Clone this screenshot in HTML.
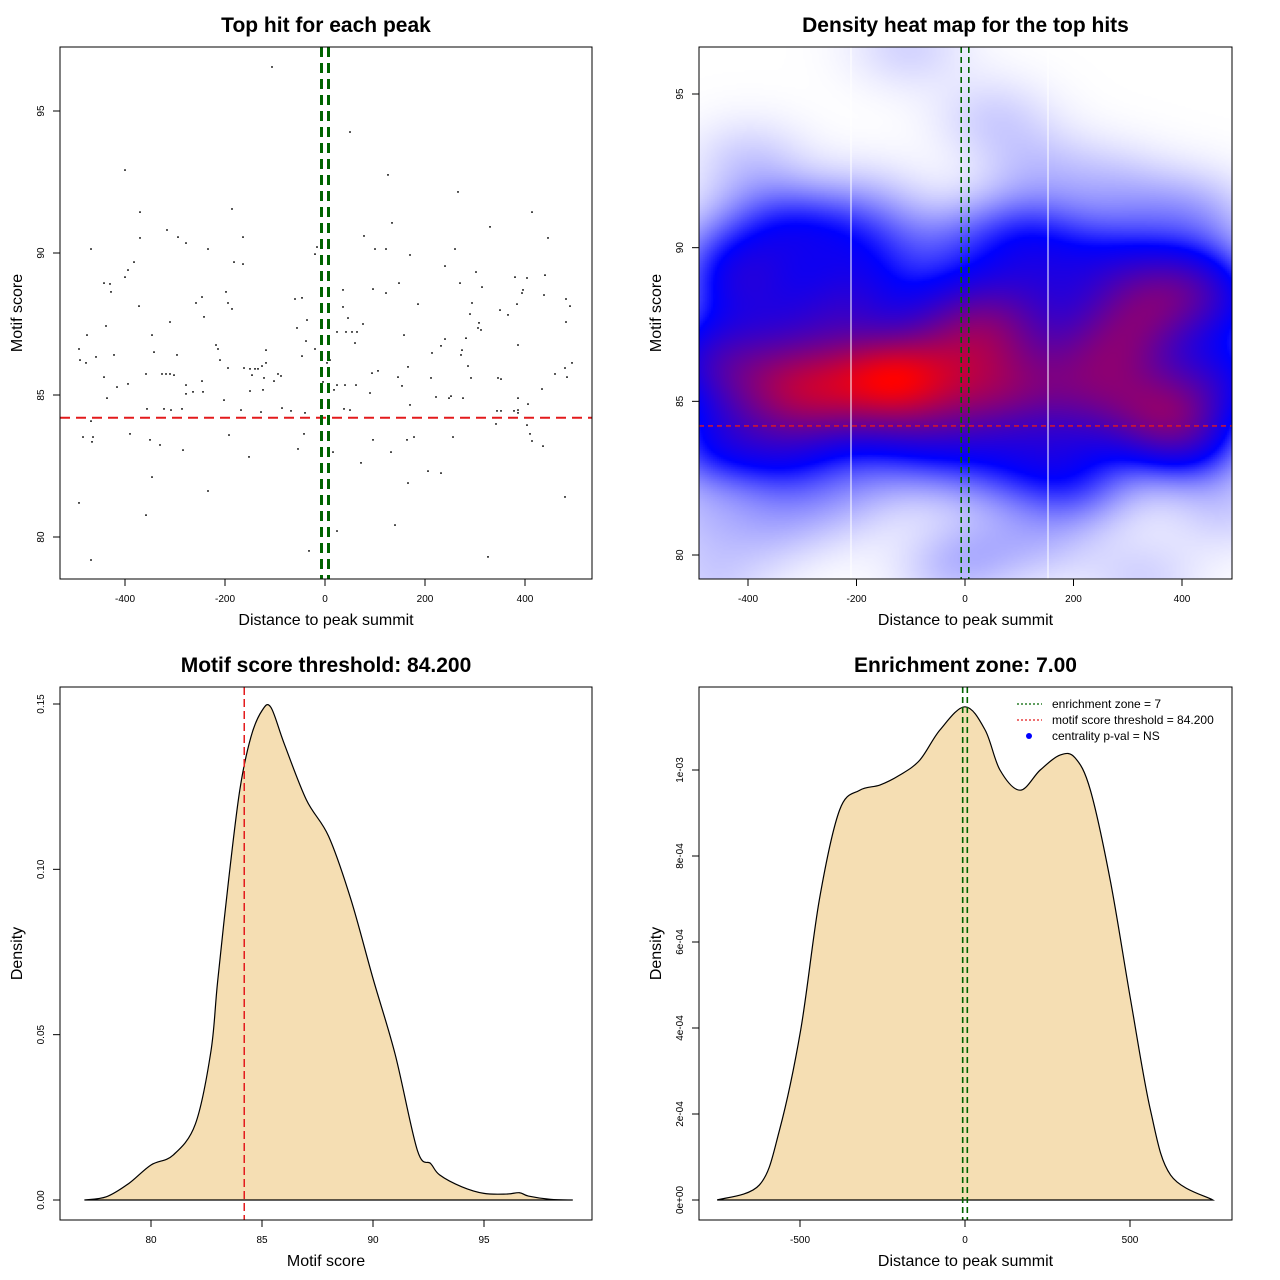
<!DOCTYPE html>
<html><head><meta charset="utf-8">
<style>
html,body{margin:0;padding:0;background:#fff;}
#wrap{position:relative;width:1280px;height:1280px;overflow:hidden;font-family:"Liberation Sans",sans-serif;}
#heat{position:absolute;left:699px;top:47px;}
svg{position:absolute;left:0;top:0;}
</style></head>
<body>
<div id="wrap">
<canvas id="heat" width="533" height="532"></canvas>
<svg id="svg" width="1280" height="1280" xmlns="http://www.w3.org/2000/svg"></svg>
</div>
<script>
// ---------- data ----------
const hitDistance = [-106,50,-400,126,266,-186,-370,414,134,-316,330,-294,-164,-370,78,446,-278,-468,-234,-16,100,122,260,-20,-182,-382,170,-164,240,-394,302,-400,380,404,440,148,-442,-430,270,96,314,36,396,-428,-198,394,122,438,-246,-60,-46,-194,482,-258,294,186,384,-372,490,36,-186,350,366,-242,290,46,-36,-310,308,76,-56,306,-438,482,312,24,42,54,64,-476,-346,158,282,240,-38,60,-218,232,386,-492,-214,-20,-342,274,-118,214,-296,-46,272,-458,-422,-490,10,-210,4,-478,-140,-126,-118,-150,-134,494,-194,-162,166,286,480,106,94,-326,-310,-318,-358,-94,-88,-146,-302,460,-442,-122,212,146,292,346,352,484,-102,-246,-4,-278,-416,-394,24,40,62,154,434,-264,-244,-124,18,-150,-278,90,222,248,252,276,-436,170,-202,386,406,386,-356,-322,-308,-286,-168,-86,38,50,-68,-128,344,352,378,386,-40,-468,342,404,-484,-464,-390,-192,-42,410,-466,-350,96,-330,164,178,256,414,436,-54,-284,16,132,-152,72,206,232,-346,166,-234,-492,480,-358,140,24,-32,-468,326];
const hitScore = [96.55,94.26,92.92,92.75,92.15,91.55,91.44,91.44,91.06,90.81,90.92,90.56,90.56,90.53,90.6,90.53,90.35,90.14,90.14,90.21,90.14,90.14,90.14,89.96,89.68,89.68,89.93,89.61,89.54,89.4,89.33,89.15,89.15,89.12,89.22,88.94,88.94,88.91,88.94,88.73,88.8,88.7,88.7,88.63,88.63,88.59,88.59,88.52,88.45,88.38,88.42,88.24,88.38,88.24,88.24,88.2,88.2,88.13,88.13,88.1,88.03,87.99,87.82,87.75,87.85,87.71,87.64,87.57,87.54,87.5,87.36,87.36,87.43,87.57,87.29,87.22,87.22,87.22,87.22,87.11,87.11,87.11,87.0,86.97,86.9,86.83,86.76,86.73,86.76,86.62,86.62,86.62,86.51,86.58,86.58,86.48,86.41,86.37,86.41,86.34,86.41,86.23,86.23,86.23,86.13,86.13,85.92,86.02,86.13,85.92,85.92,86.13,85.95,85.95,85.99,86.02,85.95,85.85,85.77,85.74,85.74,85.74,85.74,85.74,85.67,85.7,85.7,85.74,85.63,85.6,85.6,85.63,85.6,85.6,85.56,85.63,85.49,85.49,85.46,85.35,85.28,85.39,85.35,85.35,85.35,85.32,85.21,85.11,85.11,85.18,85.18,85.14,85.04,85.07,84.93,84.89,84.96,84.89,84.89,84.65,84.82,84.89,84.68,84.47,84.51,84.51,84.47,84.51,84.47,84.54,84.51,84.47,84.44,84.4,84.44,84.44,84.44,84.37,84.37,84.08,83.98,83.94,83.52,83.52,83.63,83.59,83.63,83.63,83.35,83.42,83.42,83.24,83.42,83.52,83.52,83.38,83.2,83.1,83.06,82.99,82.99,82.82,82.61,82.32,82.25,82.11,81.9,81.62,81.2,81.41,80.77,80.42,80.21,79.51,79.19,79.3];
const scoreThreshold = 84.2;
const enrichZone = 7;
const scoreX = [77,78,79,80,81,82,82.7,83,83.5,84,84.5,85,85.4,86,87,88,89,90,91,92,92.6,93,94,95,96,96.6,97,98,99];
const scoreDens = [0,0.001,0.005,0.0106,0.0136,0.023,0.045,0.066,0.097,0.124,0.14,0.148,0.149,0.138,0.121,0.110,0.091,0.067,0.044,0.015,0.011,0.0076,0.004,0.002,0.0018,0.0022,0.0012,0.0002,0];
const distX = [-751,-623,-562,-498,-441,-380,-319,-258,-198,-137,-76,0,61,106,167,228,289,334,380,441,502,562,623,751];
const distDens = [0,3.5e-5,1.63e-4,3.95e-4,7.0e-4,9.07e-4,9.53e-4,9.65e-4,9.88e-4,1.023e-3,1.093e-3,1.147e-3,1.093e-3,1.0e-3,9.53e-4,1.0e-3,1.035e-3,1.028e-3,9.53e-4,7.4e-4,4.65e-4,2.09e-4,5.8e-5,0];
const ticks1X=[-400,-200,0,200,400], ticks1Y=[80,85,90,95];
const ticks3X=[80,85,90,95], ticks3Y=[0,0.05,0.10,0.15], ticks3YLab=["0.00","0.05","0.10","0.15"];
const ticks4X=[-500,0,500], ticks4Y=[0,2e-4,4e-4,6e-4,8e-4,1e-3], ticks4YLab=["0e+00","2e-04","4e-04","6e-04","8e-04","1e-03"];

// ---------- helpers ----------
const svg=document.getElementById('svg');
const NS='http://www.w3.org/2000/svg';
function el(tag,attrs,parent){const e=document.createElementNS(NS,tag);for(const k in attrs)e.setAttribute(k,attrs[k]);(parent||svg).appendChild(e);return e;}
function txt(s,x,y,size,opts,parent){const t=el('text',Object.assign({x:x,y:y,'font-size':size,'text-anchor':'middle','font-family':'Liberation Sans, sans-serif',fill:'#000'},opts||{}),parent);t.textContent=s;return t;}
function lin(d0,d1,p0,p1){return v=>p0+(v-d0)*(p1-p0)/(d1-d0);}
function smoothPath(xs,ys){let d='M'+xs[0]+','+ys[0];for(let i=0;i<xs.length-1;i++){const x0=xs[Math.max(i-1,0)],y0=ys[Math.max(i-1,0)],x1=xs[i],y1=ys[i],x2=xs[i+1],y2=ys[i+1],x3=xs[Math.min(i+2,xs.length-1)],y3=ys[Math.min(i+2,xs.length-1)];d+=' C'+(x1+(x2-x0)/6)+','+(y1+(y2-y0)/6)+' '+(x2-(x3-x1)/6)+','+(y2-(y3-y1)/6)+' '+x2+','+y2;}return d;}

function panel(name,L,T,R,B,title,xlab,ylab){
  const g=el('g',{});
  
  
  const t=txt(title,(L+R)/2,T-15,21,{'font-weight':'bold'},g);
  
  
  const xl=txt(xlab,(L+R)/2,B+46,16,{},g);
  
  
  const yl=txt(ylab,0,0,16,{transform:'translate('+(L-38)+','+((T+B)/2)+') rotate(-90)'},g);
  
  
  return g;
}
function axes(g,L,T,R,B,sx,sy,tx,ty,tyLab){
  const xa=el('g',{},g);
  
  
  el('line',{x1:sx(tx[0]),x2:sx(tx[tx.length-1]),y1:B,y2:B,stroke:'#000'},xa);
  tx.forEach(v=>{el('line',{x1:sx(v),x2:sx(v),y1:B,y2:B+7,stroke:'#000'},xa);txt(String(v),sx(v),B+23,10,{},xa);});
  const ya=el('g',{},g);
  
  
  ty.forEach((v,i)=>{el('line',{x1:L-7,x2:L,y1:sy(v),y2:sy(v),stroke:'#000'},ya);txt(tyLab?tyLab[i]:String(v),0,0,10,{transform:'translate('+(L-16)+','+sy(v)+') rotate(-90)'},ya);});
  const b=el('rect',{x:L,y:T,width:R-L,height:B-T,fill:'none',stroke:'#000'},g);
  
  
}

// ---------- panel 1 ----------
(function(){
  const L=60,T=47,R=592,B=579;
  const sx=lin(0,400,325,525), sy=lin(80,95,537,111);
  const g=panel('scatter-panel',L,T,R,B,'Top hit for each peak','Distance to peak summit','Motif score');
  const pts=el('g',{},g);
  
  
  hitDistance.forEach((d,i)=>{const r=el('rect',{x:sx(d)-0.8,y:sy(hitScore[i])-0.8,width:1.6,height:1.6,fill:'#000'},pts);
    
    });
  const h=el('line',{x1:L,x2:R,y1:sy(scoreThreshold),y2:sy(scoreThreshold),stroke:'#e31a1c','stroke-width':2,'stroke-dasharray':'10,6'},g);
  
  
  [-enrichZone,enrichZone].forEach(z=>{const v=el('line',{x1:sx(z),x2:sx(z),y1:T,y2:B,stroke:'#006400','stroke-width':3,'stroke-dasharray':'10,6'},g);
    
    });
  axes(g,L,T,R,B,sx,sy,ticks1X,ticks1Y);
})();

// ---------- panel 2 ----------
(function(){
  const L=699,T=47,R=1232,B=579;
  const sx=lin(0,400,965,1182), sy=lin(80,95,555,94);
  const cv=document.getElementById('heat'),ctx=cv.getContext('2d');
  const W=533,H=532,step=2;
  const bx=75,by=0.95;
  const grid=[];let mx=0;
  for(let j=0;j<H;j+=step){const row=[];for(let i=0;i<W;i+=step){
    const dx=(L+i-965)/(217/400), dy=80+(555-(T+j))/(461/15);
    let s=0;for(let k=0;k<hitDistance.length;k++){const a=(dx-hitDistance[k])/bx,b=(dy-hitScore[k])/by;const e=a*a+b*b;if(e<16)s+=Math.exp(-0.5*e);}
    row.push(s);if(s>mx)mx=s;}grid.push(row);}
  const img=ctx.createImageData(W,H);
  for(let j=0;j<H;j++)for(let i=0;i<W;i++){
    let v=grid[Math.floor(j/step)][Math.floor(i/step)]/mx;
    let r,gg,b;
    if(v<0.3){const t=v/0.3;r=255*(1-t);gg=255*(1-t);b=255;}else{const t=Math.min((v-0.3)/0.7,1);r=255*t;gg=0;b=255*(1-t);}
    const o=(j*W+i)*4;img.data[o]=r;img.data[o+1]=gg;img.data[o+2]=b;img.data[o+3]=255;}
  ctx.putImageData(img,0,0);
  const g=panel('heatmap-panel',L,T,R,B,'Density heat map for the top hits','Distance to peak summit','Motif score');
  [851,1048].forEach(x=>{const w=el('line',{x1:x,x2:x,y1:T,y2:B,stroke:'#fff','stroke-width':1},g);
    
    });
  const h=el('line',{x1:L,x2:R,y1:sy(scoreThreshold),y2:sy(scoreThreshold),stroke:'#e31a1c','stroke-width':1.3,'stroke-dasharray':'5,4'},g);
  
  
  [-enrichZone,enrichZone].forEach(z=>{const v=el('line',{x1:sx(z),x2:sx(z),y1:T,y2:B,stroke:'#006400','stroke-width':1.6,'stroke-dasharray':'6,4'},g);
    
    });
  axes(g,L,T,R,B,sx,sy,ticks1X,ticks1Y);
})();

// ---------- panel 3 ----------
(function(){
  const L=60,T=687,R=592,B=1220;
  const sx=lin(80,95,151,484), sy=lin(0,0.15,1200,704);
  const g=panel('score-density-panel',L,T,R,B,'Motif score threshold: 84.200','Motif score','Density');
  const xs=scoreX.map(sx), ys=scoreDens.map(sy);
  const p=el('path',{d:smoothPath(xs,ys)+' Z',fill:'#f5deb3',stroke:'#000','stroke-width':1.2},g);
  
  
  const v=el('line',{x1:sx(scoreThreshold),x2:sx(scoreThreshold),y1:T,y2:B,stroke:'#e31a1c','stroke-width':1.5,'stroke-dasharray':'8,4'},g);
  
  
  axes(g,L,T,R,B,sx,sy,ticks3X,ticks3Y,ticks3YLab);
})();

// ---------- panel 4 ----------
(function(){
  const L=699,T=687,R=1232,B=1220;
  const sx=lin(0,500,965,1130), sy=lin(0,1e-3,1200,770);
  const g=panel('distance-density-panel',L,T,R,B,'Enrichment zone: 7.00','Distance to peak summit','Density');
  const xs=distX.map(sx), ys=distDens.map(sy);
  const p=el('path',{d:smoothPath(xs,ys)+' Z',fill:'#f5deb3',stroke:'#000','stroke-width':1.2},g);
  
  
  [-enrichZone,enrichZone].forEach(z=>{const v=el('line',{x1:sx(z),x2:sx(z),y1:T,y2:B,stroke:'#006400','stroke-width':1.6,'stroke-dasharray':'6,4'},g);
    
    });
  axes(g,L,T,R,B,sx,sy,ticks4X,ticks4Y,ticks4YLab);
  const lg=el('g',{},g);
  
  
  const items=[['enrichment zone = 7','#006400','line'],['motif score threshold = 84.200','#e31a1c','line'],['centrality p-val = NS','#0000ff','dot']];
  items.forEach((it,i)=>{const y=704+i*16;
    const e=el('g',{},lg);
    
    
    if(it[2]==='line')el('line',{x1:1017,x2:1042,y1:y,y2:y,stroke:it[1],'stroke-width':1.2,'stroke-dasharray':'2,2'},e);
    else el('circle',{cx:1029,cy:y,r:3,fill:it[1]},e);
    txt(it[0],1052,y+4,12,{'text-anchor':'start'},e);});
})();
</script>
</body></html>
